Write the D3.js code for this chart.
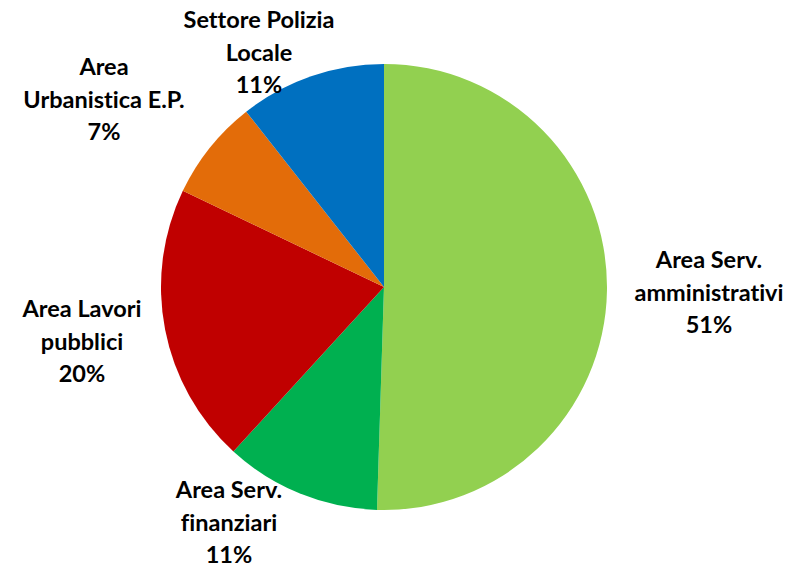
<!DOCTYPE html>
<html>
<head>
<meta charset="utf-8">
<script src="https://cdn.jsdelivr.net/npm/d3@7"></script>
<style>
  html, body { margin: 0; padding: 0; background: #fff; }
  svg { display: block; }
  text { font-family: Lato, "Open Sans", sans-serif; font-weight: bold; fill: #000; font-variant-ligatures: none; }
</style>
</head>
<body>
<svg id="chart" width="805" height="567"></svg>
<script>
// Data
const categories = ["Area Serv. amministrativi", "Area Serv. finanziari", "Area Lavori pubblici", "Area Urbanistica E.P.", "Settore Polizia Locale"];
const values = [50.5, 11.3, 20.3, 7.3, 10.6];
const labelLines = [
  ["Area Serv.", "amministrativi"],
  ["Area Serv.", "finanziari"],
  ["Area Lavori", "pubblici"],
  ["Area", "Urbanistica E.P."],
  ["Settore Polizia", "Locale"]
];
const colors = ["#92D050", "#00B050", "#C00000", "#E36C09", "#0070C0"];

// Layout (label block centre x and first baseline y)
const labelAnchors = [[709, 268], [229, 498], [82, 317], [104, 75], [259, 28]];

const svg = d3.select("#chart");
const cx = 384, cy = 287, r = 223;
const total = d3.sum(values);

const pie = d3.pie().sort(null).value(d => d)(values);
const arc = d3.arc().innerRadius(0).outerRadius(r);

const g = svg.append("g").attr("transform", `translate(${cx},${cy})`);
g.selectAll("path").data(pie).join("path")
  .attr("d", arc)
  .attr("fill", (d, i) => colors[i]);

const fmt = v => Math.round(v / total * 100) + "%";
const lh = 32.5;
categories.forEach((c, i) => {
  const lines = labelLines[i].concat([fmt(values[i])]);
  const t = svg.append("text")
    .attr("text-anchor", "middle")
    .attr("font-size", 23.5);
  lines.forEach((ln, k) => {
    t.append("tspan")
      .attr("x", labelAnchors[i][0])
      .attr("y", labelAnchors[i][1] + k * lh)
      .text(ln);
  });
});
</script>
</body>
</html>
